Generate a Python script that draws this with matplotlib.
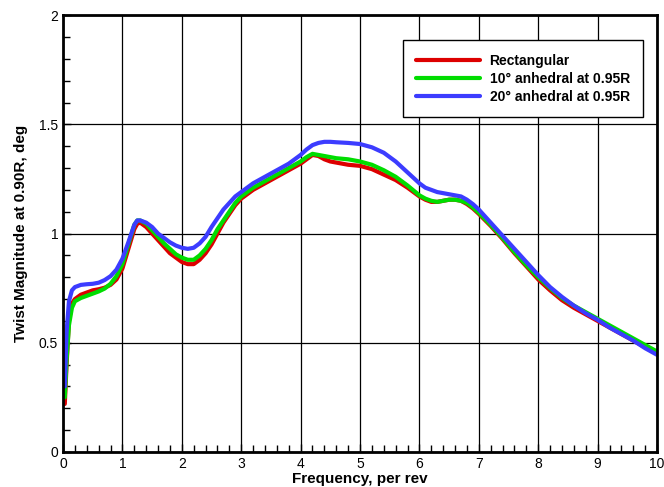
import matplotlib
matplotlib.use('Agg')
import matplotlib.pyplot as plt
from matplotlib.ticker import MultipleLocator

plt.rcParams['font.family'] = ['Liberation Sans', 'DejaVu Sans']

# frequency, per rev
freq = [0.03, 0.06, 0.1, 0.15, 0.2, 0.3, 0.4, 0.5, 0.6, 0.7, 0.8, 0.9, 1.0, 1.1, 1.2, 1.25,
        1.3, 1.4, 1.5, 1.6, 1.7, 1.8, 1.9, 2.0, 2.1, 2.2, 2.3, 2.4, 2.5, 2.6, 2.7, 2.8, 2.9,
        3.0, 3.2, 3.4, 3.6, 3.8, 4.0, 4.1, 4.2, 4.3, 4.4, 4.5, 4.6, 4.8, 5.0, 5.2, 5.4, 5.6,
        5.8, 6.0, 6.1, 6.2, 6.3, 6.4, 6.5, 6.6, 6.7, 6.8, 6.9, 7.0, 7.2, 7.4, 7.6, 7.8, 8.0,
        8.2, 8.4, 8.6, 8.8, 9.0, 9.2, 9.4, 9.6, 9.8, 10.0]

rect = [0.22, 0.40, 0.60, 0.68, 0.70, 0.72, 0.73, 0.74, 0.745, 0.752, 0.765, 0.79, 0.84, 0.93,
        1.02, 1.045, 1.05, 1.03, 1.0, 0.97, 0.94, 0.91, 0.89, 0.87, 0.86, 0.86, 0.88, 0.91,
        0.95, 1.0, 1.05, 1.09, 1.13, 1.16, 1.2, 1.23, 1.26, 1.29, 1.32, 1.34, 1.36, 1.355,
        1.34, 1.33, 1.325, 1.315, 1.31, 1.295, 1.27, 1.245, 1.21, 1.17, 1.155, 1.145, 1.145,
        1.15, 1.155, 1.155, 1.15, 1.135, 1.115, 1.09, 1.035, 0.975, 0.91, 0.85, 0.79, 0.74,
        0.695, 0.66, 0.63, 0.60, 0.57, 0.54, 0.51, 0.48, 0.45]

anh10 = [0.25, 0.42, 0.58, 0.66, 0.69, 0.705, 0.715, 0.725, 0.735, 0.748, 0.77, 0.805, 0.86,
         0.95, 1.04, 1.06, 1.06, 1.045, 1.015, 0.985, 0.955, 0.93, 0.905, 0.89, 0.88, 0.88,
         0.9, 0.93, 0.97, 1.02, 1.06, 1.1, 1.14, 1.17, 1.21, 1.24, 1.27, 1.30, 1.33, 1.35,
         1.365, 1.36, 1.355, 1.35, 1.345, 1.34, 1.33, 1.315, 1.29, 1.26, 1.22, 1.175, 1.16,
         1.15, 1.145, 1.15, 1.155, 1.155, 1.15, 1.14, 1.12, 1.095, 1.04, 0.98, 0.915, 0.855,
         0.80, 0.75, 0.705, 0.67, 0.64, 0.61, 0.58, 0.55, 0.52, 0.49, 0.46]

anh20 = [0.30, 0.55, 0.69, 0.74, 0.755, 0.765, 0.768, 0.77, 0.775, 0.787, 0.805, 0.835, 0.885,
         0.96, 1.04, 1.06, 1.06, 1.05, 1.03, 1.0, 0.98, 0.96, 0.945, 0.935, 0.93, 0.935,
         0.955, 0.985, 1.03, 1.07, 1.11, 1.14, 1.17, 1.19, 1.23, 1.26, 1.29, 1.32, 1.36,
         1.385, 1.405, 1.415, 1.42, 1.42, 1.418, 1.415, 1.41, 1.395, 1.37, 1.33, 1.28, 1.23,
         1.21, 1.2, 1.19, 1.185, 1.18, 1.175, 1.17, 1.155, 1.135, 1.11, 1.05, 0.99, 0.93,
         0.87, 0.81, 0.755, 0.71, 0.67, 0.635, 0.605, 0.57, 0.54, 0.51, 0.475, 0.445]

labels = ['Rectangular', '10° anhedral at 0.95R', '20° anhedral at 0.95R']
colors = ['#dd0000', '#00dd00', '#3c3cff']

fig = plt.figure(figsize=(6.64, 4.87), dpi=100)
ax = fig.add_axes([0.0949, 0.0719, 0.8946, 0.897])

for y, lab, c in zip([rect, anh10, anh20], labels, colors):
    ax.plot(freq, y, color=c, lw=3, label=lab, solid_capstyle='round')

ax.set_xlim(0, 10)
ax.set_ylim(0, 2)
ax.xaxis.set_major_locator(MultipleLocator(1))
ax.xaxis.set_minor_locator(MultipleLocator(0.2))
ax.yaxis.set_minor_locator(MultipleLocator(0.1))
ax.set_yticks([0, 0.5, 1, 1.5, 2])
ax.set_yticklabels(['0', '0.5', '1', '1.5', '2'])
ax.grid(True, which='major', color='black', lw=0.9)
ax.tick_params(which='both', direction='in', labelsize=10)
ax.tick_params(which='major', length=6, width=1)
ax.tick_params(which='minor', length=5, width=1)
for s in ax.spines.values():
    s.set_linewidth(2)

ax.set_xlabel('Frequency, per rev', fontsize=11, fontweight='bold', labelpad=1)
ax.set_ylabel('Twist Magnitude at 0.90R, deg', fontsize=11, fontweight='bold', labelpad=8)

leg = ax.legend(loc='upper right', bbox_to_anchor=(0.988, 0.958), prop={'weight': 'bold', 'size': 10},
                handlelength=4.6, handletextpad=0.7, labelspacing=0.3, borderpad=0.95,
                fancybox=False, framealpha=1, edgecolor='black')
leg.get_frame().set_linewidth(1)

plt.savefig('out.png', dpi=100)
